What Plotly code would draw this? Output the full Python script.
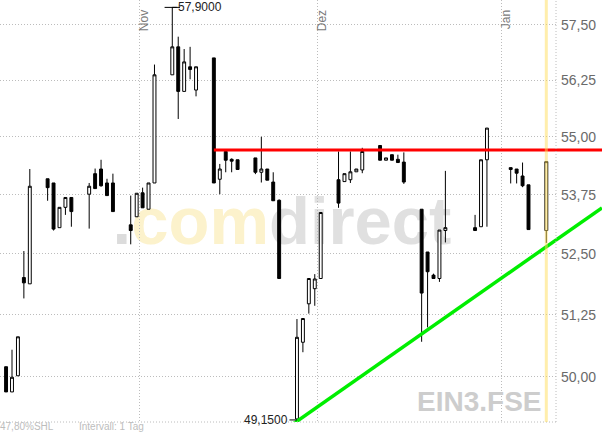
import math
import pandas as pd
import plotly.graph_objects as go

# ---------------- data ----------------
dates = [
    "2017-10-09", "2017-10-10", "2017-10-11", "2017-10-12", "2017-10-13",
    "2017-10-16", "2017-10-17", "2017-10-18", "2017-10-19", "2017-10-20",
    "2017-10-23", "2017-10-24", "2017-10-25", "2017-10-26", "2017-10-27",
    "2017-10-30", "2017-10-31", "2017-11-01", "2017-11-02", "2017-11-03",
    "2017-11-06", "2017-11-07", "2017-11-08", "2017-11-09", "2017-11-10",
    "2017-11-13", "2017-11-14", "2017-11-15", "2017-11-16", "2017-11-17",
    "2017-11-20", "2017-11-21", "2017-11-22", "2017-11-23", "2017-11-24",
    "2017-11-27", "2017-11-28", "2017-11-29", "2017-11-30", "2017-12-01",
    "2017-12-04", "2017-12-05", "2017-12-06", "2017-12-07", "2017-12-08",
    "2017-12-11", "2017-12-12", "2017-12-13", "2017-12-14", "2017-12-15",
    "2017-12-18", "2017-12-19", "2017-12-20", "2017-12-21", "2017-12-22",
    "2017-12-27", "2017-12-28", "2017-12-29",
    "2018-01-02", "2018-01-03", "2018-01-04", "2018-01-05", "2018-01-08",
]
opens = [
    50.20, 49.70, 50.02, 52.01, 51.88,
    54.09, 54.00, 53.05, 53.48, 53.69,
    53.76, 54.20, 54.30, 54.00, 54.00,
    53.11, 53.28, 53.79, 53.44, 54.00,
    56.37, 57.00, 56.00, 56.55, 56.03,
    56.75, 54.08, 54.68, 54.51, 54.50,
    54.54, 54.23, 54.30, 54.02, 53.63,
    49.17, 50.69, 51.47, 51.78, 51.99,
    54.07, 54.03, 54.07, 54.24, 54.28,
    54.81, 54.49, 54.61, 54.51, 54.45,
    53.44, 52.54, 52.06, 51.99, 52.99,
    53.05, 53.07, 54.50,
    54.33, 54.30, 54.15, 53.96, 52.99,
]
highs = [
    50.20, 50.54, 50.80, 52.56, 54.30,
    54.09, 54.00, 53.48, 53.69, 53.69,
    54.00, 54.31, 54.50, 54.09, 54.20,
    53.73, 53.78, 53.90, 54.00, 56.60,
    57.90, 57.23, 56.95, 57.00, 56.55,
    56.75, 54.41, 54.72, 54.53, 54.50,
    54.54, 55.00, 54.30, 54.23, 53.65,
    51.16, 51.17, 51.99, 52.08, 53.37,
    54.68, 54.20, 54.68, 54.30, 54.76,
    54.81, 54.54, 54.61, 54.61, 54.66,
    53.44, 52.54, 52.09, 53.00, 54.26,
    53.32, 54.50, 55.19,
    54.33, 54.30, 54.44, 53.96, 54.46,
]
lows = [
    49.70, 49.70, 50.02, 51.58, 51.88,
    53.62, 52.99, 53.05, 53.32, 53.07,
    53.03, 53.88, 53.92, 53.73, 53.39,
    52.70, 53.28, 53.47, 53.44, 54.00,
    56.37, 55.39, 56.00, 56.27, 55.89,
    54.00, 53.76, 54.23, 54.23, 54.29,
    54.19, 54.01, 54.06, 53.62, 51.99,
    49.15, 50.49, 51.27, 51.43, 51.99,
    53.47, 54.03, 54.00, 54.24, 54.21,
    54.49, 54.49, 54.49, 54.44, 53.98,
    50.70, 50.99, 51.99, 51.92, 52.74,
    52.99, 53.07, 53.07,
    53.99, 53.99, 53.91, 53.01, 52.73,
]
closes = [
    49.70, 49.99, 50.80, 51.90, 53.93,
    53.90, 53.02, 53.48, 53.69, 53.39,
    53.93, 53.88, 53.94, 53.73, 53.39,
    52.99, 53.78, 53.47, 54.00, 56.37,
    57.00, 56.00, 56.66, 56.49, 56.55,
    54.00, 54.30, 54.49, 54.47, 54.29,
    54.23, 54.30, 54.06, 53.62, 51.99,
    50.79, 51.17, 51.99, 51.98, 53.37,
    53.57, 54.20, 54.24, 54.30, 54.68,
    54.49, 54.54, 54.49, 54.44, 54.02,
    51.69, 52.13, 51.99, 53.00, 53.05,
    52.99, 54.50, 55.19,
    54.29, 54.21, 53.94, 53.01, 54.46,
]

y_tick_values = [50.00, 51.25, 52.50, 53.75, 55.00, 56.25, 57.50]
month_boundaries = ["2017-10-31 12:00", "2017-11-30 12:00", "2017-12-31 12:00"]
month_labels = ["Nov", "Dez", "Jan"]

resistance_dates = ["2017-11-13", "2018-01-25"]
resistance_values = [54.71, 54.71]
support_dates = ["2017-11-25 20:00", "2018-01-17 09:00"]
support_values = [49.03, 53.47]

high_date, high_value, high_text = "2017-11-06", 57.90, "57,9000"
low_date, low_value, low_text = "2017-11-27", 49.15, "49,1500"
last_date = "2018-01-08"

# ---------------- layout constants ----------------
X_RANGE = ["2017-10-07 23:30", "2018-01-09 15:10"]
Y_RANGE_VALUES = [49.11, 58.07]
W, H = 602, 432
PLOT_W, PLOT_H = 556, 422
PLOT_RIGHT = PLOT_W / W

xs = pd.Timestamp(X_RANGE[0])
xe = pd.Timestamp(X_RANGE[1])
x2_end = xs + (xe - xs) / PLOT_RIGHT
y_range_log = [math.log10(v) for v in Y_RANGE_VALUES]

GRID = "#bcbcbc"
LABEL_FONT = "Liberation Sans, Arial, sans-serif"

fig = go.Figure()

fig.add_trace(go.Candlestick(
    x=dates, open=opens, high=highs, low=lows, close=closes,
    increasing=dict(line=dict(color="black", width=1), fillcolor="white"),
    decreasing=dict(line=dict(color="black", width=1), fillcolor="black"),
    whiskerwidth=0, showlegend=False, hoverinfo="skip",
))
fig.add_trace(go.Scatter(
    x=[high_date], y=[high_value], mode="markers",
    marker=dict(symbol="line-ew", size=11, line=dict(color="black", width=1)),
    showlegend=False, hoverinfo="skip",
))
fig.add_trace(go.Scatter(
    x=resistance_dates, y=resistance_values, mode="lines",
    line=dict(color="#ff0000", width=3), xaxis="x2", yaxis="y2",
    showlegend=False, hoverinfo="skip",
))
fig.add_trace(go.Scatter(
    x=support_dates, y=support_values, mode="lines",
    line=dict(color="#00ee00", width=3.5), xaxis="x2", yaxis="y2",
    showlegend=False, hoverinfo="skip",
))

shapes = [
    # watermark
    dict(type="rect", xref="x domain", yref="y domain",
         x0=114 / PLOT_W, x1=450 / PLOT_W, y0=1 - 249 / PLOT_H, y1=1 - 179 / PLOT_H,
         line=dict(width=0), fillcolor="rgba(0,0,0,0)", layer="below",
         label=dict(
             text='<span style="color:#dcdcdc">.</span><span style="color:#fcf2cc">com</span>direct',
             font=dict(family="Liberation Sans, Arial", size=67,
                       color="#e0e0e0", weight="bold"),
             textposition="middle center", padding=0)),
    # right border
    dict(type="line", xref="x domain", yref="y domain", x0=1, x1=1, y0=0, y1=1,
         line=dict(color=GRID, width=1, dash="1px,2px")),
    # bottom border
    dict(type="line", xref="x domain", yref="y domain", x0=0, x1=1, y0=0, y1=0,
         line=dict(color=GRID, width=1, dash="1px,2px")),
    # highlight of last day
    dict(type="line", xref="x", yref="y domain", x0=last_date, x1=last_date, y0=0, y1=1,
         line=dict(color="rgba(255,222,90,0.5)", width=3), layer="above"),
]

annotations = []
for d, lab in zip(month_boundaries, month_labels):
    annotations.append(dict(
        x=d, xref="x", y=1, yref="paper", text=lab, showarrow=False,
        textangle=-90, xanchor="left", yanchor="top", yshift=-8, xshift=-5,
        font=dict(family=LABEL_FONT, size=12, color="#7a7a7a"),
    ))
annotations.append(dict(
    x=high_date, y=math.log10(high_value), xref="x", yref="y", text=high_text,
    showarrow=True, arrowhead=0, arrowwidth=1, arrowcolor="black", ax=28, ay=0,
    standoff=0, font=dict(family=LABEL_FONT, size=12, color="#222222"),
))
annotations.append(dict(
    x=low_date, y=math.log10(low_value), xref="x", yref="y", text=low_text,
    showarrow=True, arrowhead=0, arrowwidth=1, arrowcolor="black", ax=-31, ay=0,
    standoff=0, font=dict(family=LABEL_FONT, size=12, color="#222222"),
))
annotations.append(dict(
    x=543 / PLOT_W, xref="x domain", y=1 - 401 / PLOT_H, yref="y domain",
    text="EIN3.FSE", showarrow=False, xanchor="right", yanchor="middle",
    font=dict(family=LABEL_FONT, size=28, color="#cdcdcd", weight="bold"),
))
annotations.append(dict(
    x=0, xref="paper", y=0, yref="paper", text="47,80%SHL", showarrow=False,
    xanchor="left", yanchor="top", xshift=-1, yshift=2, borderpad=0,
    font=dict(family=LABEL_FONT, size=10, color="#bdbdbd"),
))
annotations.append(dict(
    x=78 / W, xref="paper", y=0, yref="paper", text="Intervall: 1 Tag", showarrow=False,
    xanchor="left", yanchor="top", yshift=2, borderpad=0,
    font=dict(family=LABEL_FONT, size=10, color="#bdbdbd"),
))

fig.update_layout(
    width=W, height=H,
    margin=dict(l=0, r=0, t=0, b=H - PLOT_H, pad=0),
    paper_bgcolor="white", plot_bgcolor="rgba(0,0,0,0)",
    separators=",.", showlegend=False,
    xaxis=dict(
        type="date", domain=[0, PLOT_RIGHT], range=X_RANGE, anchor="y",
        rangeslider=dict(visible=False), tickmode="array", tickvals=month_boundaries,
        showticklabels=False, ticks="", showgrid=True, gridcolor=GRID, gridwidth=1,
        griddash="1px,2px", zeroline=False, showline=False, fixedrange=True,
    ),
    yaxis=dict(
        type="log", range=y_range_log, side="right", anchor="x", domain=[0, 1],
        tickmode="array", tickvals=y_tick_values, tickformat=".2f", ticks="",
        ticklabelstandoff=4,
        tickfont=dict(family=LABEL_FONT, size=14, color="#6a6a6a"),
        showgrid=True, gridcolor=GRID, gridwidth=1, griddash="1px,2px",
        zeroline=False, showline=False, automargin=False,
    ),
    xaxis2=dict(type="date", domain=[0, 1], range=[xs, x2_end], anchor="y2", visible=False),
    yaxis2=dict(type="log", domain=[0, 1], range=y_range_log, anchor="x2", visible=False),
    shapes=shapes, annotations=annotations,
)

fig.write_html("out.html", config={"displayModeBar": False},
               post_script="document.body.style.margin='0px';")
